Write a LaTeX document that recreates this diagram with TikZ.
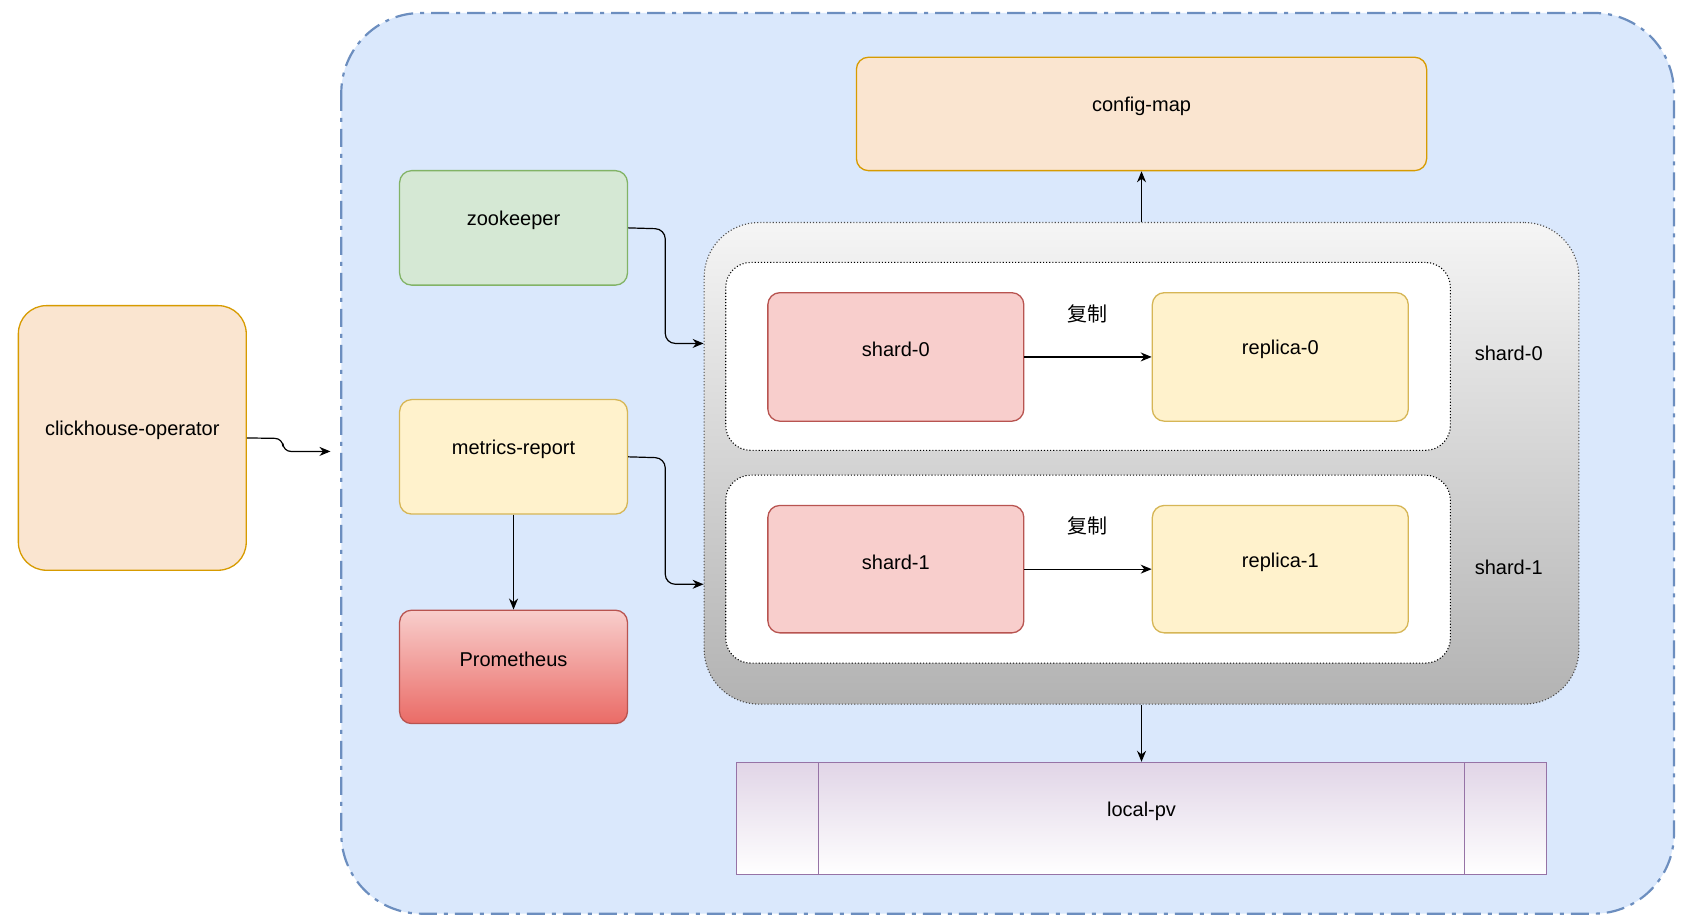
\documentclass[tikz,border=0pt]{standalone}
\usepackage{fontspec}
\setmainfont{Liberation Sans}
\newfontfamily\cjk{Noto Sans CJK SC}
\usetikzlibrary{fit,arrows.meta}
\definecolor{obl}{HTML}{DAE8FC}\definecolor{obd}{HTML}{6C8EBF}
\definecolor{orf}{HTML}{FAE5D0}\definecolor{ord}{HTML}{D79B00}
\definecolor{grf}{HTML}{D5E8D4}\definecolor{grd}{HTML}{82B366}
\definecolor{yef}{HTML}{FFF2CC}\definecolor{yed}{HTML}{D6B656}
\definecolor{ref}{HTML}{F8CECC}\definecolor{red2}{HTML}{EA6B66}\definecolor{redd}{HTML}{B85450}
\definecolor{puf}{HTML}{E1D5E7}\definecolor{pud}{HTML}{9673A6}
\begin{document}
\begin{tikzpicture}[x=1.08pt,y=-1.08pt,
  box/.style={draw,line width=1.3pt,rounded corners=12pt,inner sep=0pt,font=\fontsize{20}{24}\selectfont},
  arr/.style={-{Stealth[length=11pt,width=9pt]},line width=1.2pt},
  lbl/.style={font=\fontsize{20}{24}\selectfont}]
\useasboundingbox (0,0) rectangle (1563,849);
\fill[white] (0,0) rectangle (1563,849);
\draw[obd,fill=obl,line width=2.2pt,rounded corners=80pt,dash pattern=on 18pt off 7pt on 4pt off 7pt] (316,12) rectangle (1550,846);
\node[box,fill=orf,draw=ord,rounded corners=28pt,fit={(17,283)(228,528)}] (op) {clickhouse-operator};
\node[box,fill=grf,draw=grd,fit={(370,158)(581,264)}] (zk) {zookeeper};
\node[box,fill=yef,draw=yed,fit={(370,370)(581,476)}] (mr) {metrics-report};
\node[box,top color=ref,bottom color=red2,draw=redd,fit={(370,565)(581,670)}] (pr) {Prometheus};
\node[box,fill=orf,draw=ord,fit={(793,53)(1321,158)}] (cm) {config-map};
\node[draw=black!70,line width=1.1pt,dotted,rounded corners=55pt,top color=black!4,bottom color=black!30,inner sep=0pt,fit={(652,206)(1462,652)}] (gc) {};
\node[draw=black,line width=1.1pt,dotted,fill=white,rounded corners=25pt,inner sep=0pt,fit={(672,243)(1343,417)}] (g0) {};
\node[draw=black,line width=1.1pt,dotted,fill=white,rounded corners=25pt,inner sep=0pt,fit={(672,440)(1343,614)}] (g1) {};
\node[box,fill=ref,draw=redd,fit={(711,271)(948,390)}] (s0) {shard-0};
\node[box,fill=yef,draw=yed,fit={(1067,271)(1304,390)}] (r0) {replica-0};
\node[box,fill=ref,draw=redd,fit={(711,468)(948,586)}] (s1) {shard-1};
\node[box,fill=yef,draw=yed,fit={(1067,468)(1304,586)}] (r1) {replica-1};
\node[lbl,font=\cjk\fontsize{20}{24}\selectfont] (c0) at (1007,291) {复制};
\node[lbl,font=\cjk\fontsize{20}{24}\selectfont] (c1) at (1007,487) {复制};
\node[lbl] (l0) at (1397,327) {shard-0};
\node[lbl] (l1) at (1397,525) {shard-1};
\shade[top color=puf,bottom color=white] (682,706) rectangle (1432,810);
\node[draw=pud,line width=1.3pt,inner sep=0pt,fit={(682,706)(1432,810)},font=\fontsize{20}{24}\selectfont] (pv) {local-pv};
\draw[pud,line width=1.3pt] (758,706) -- (758,810) (1356,706) -- (1356,810);
\coordinate (opin) at (306,418);
\draw[arr,rounded corners=8pt] (op.east) -- (262,406) -- (262,418) -- (opin);
\draw[arr,rounded corners=10pt] (zk.east) -- (616,212) -- (616,318) -- (gc.west |- 0,318);
\draw[arr,rounded corners=10pt] (mr.east) -- (616,424) -- (616,541) -- (gc.west |- 0,541);
\draw[arr] (mr.south) -- (pr.north);
\draw[arr] (s0) -- (r0);
\draw[arr] (s1) -- (r1);
\draw[arr] (gc.north) -- (cm.south);
\draw[arr] (gc.south) -- (pv.north);
\end{tikzpicture}
\end{document}
